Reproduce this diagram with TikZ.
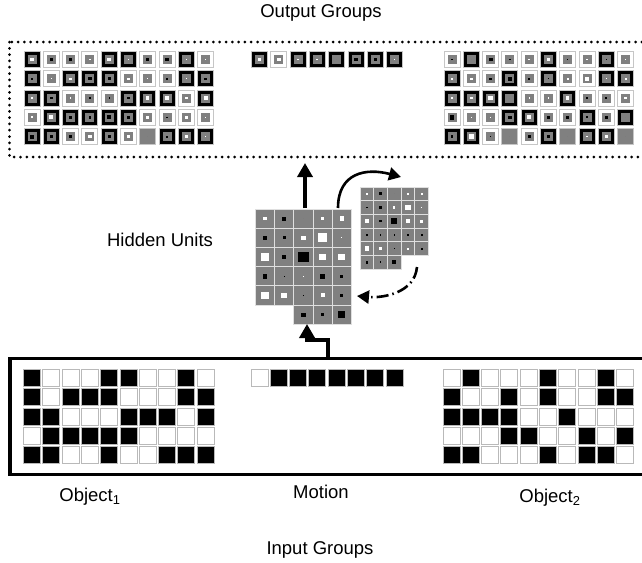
\documentclass[tikz,border=0pt]{standalone}
\usepackage{fontspec}
\setmainfont{Liberation Sans}
\usetikzlibrary{arrows.meta}

% one output unit: ring colour code and signed dot size (white > 0, black < 0)
\newcommand{\outunit}[4]{%
  \fill[gray!45] (#1,#2) rectangle ++(17,17);
  \fill[ring#3] (#1+1,#2+1) rectangle ++(15,15);
  \fill[gray] (#1+4,#2+4) rectangle ++(9,9);
  \ifdim#4pt>0pt \def\dotcol{white}\else\def\dotcol{black}\fi
  \pgfmathsetmacro\dotsz{1.3*abs(#4)}
  \fill[\dotcol] (#1+8.5-\dotsz/2,#2+8.5-\dotsz/2) rectangle ++(\dotsz,\dotsz);
}

% one hidden unit: size of the square and signed dot size
\newcommand{\hidunit}[4]{%
  \filldraw[unitcell] (#1,#2) rectangle ++(#3,#3);
  \ifdim#4pt>0pt \def\dotcol{white}\else\def\dotcol{black}\fi
  \pgfmathsetmacro\dotsz{1.15*abs(#4)}
  \fill[\dotcol] (#1+#3/2-\dotsz/2,#2+#3/2-\dotsz/2) rectangle ++(\dotsz,\dotsz);
}

\begin{document}
\begin{tikzpicture}[x=1pt, y=-1pt,
    grouplabel/.style={font=\fontsize{18.5}{22}\selectfont, inner sep=0pt},
    inbox/.style={line width=3.8pt},
    outbox/.style={line width=3pt, line cap=round, dash pattern=on 0pt off 6.3pt},
    bigarrow/.style={line width=3.5pt, -{Triangle[length=14pt,width=15pt]}},
    recurarrow/.style={line width=2.6pt, -{Triangle[length=12pt,width=13pt]}},
    backarrow/.style={line width=2.6pt, dash pattern=on 12pt off 4pt on 1.5pt off 4pt, -{Triangle[length=12pt,width=13pt]}},
    incell/.style={draw=gray!55, line width=1pt},
    unitcell/.style={fill=gray, draw=gray!25, line width=1pt},
  ]

    % Colors
    \colorlet{ring0}{white}
    \colorlet{ring1}{black}
    \colorlet{ring2}{gray}
    \colorlet{in0}{white}
    \colorlet{in1}{black}

    \useasboundingbox (0,0) rectangle (642,562);
    \clip (0,0) rectangle (642,562);

    %draw the group boxes
    \draw[outbox] (9.5,42) rectangle (680,157);
    \draw[inbox] (10,358.5) rectangle (680,474.5);

    %draw the output groups
    \foreach \row [count=\r from 0] in {
        {1/3,0/-2,0/-2.5,0/1,1/3,1/1.5,0/-2.5,0/-3,1/1,0/1},
        {1/-2,0/1,1/2,1/-2.5,1/-2.5,0/2,0/1,0/-1.5,1/1,1/-2},
        {1/1.5,1/-2,0/1,0/-1.5,0/-1,1/-2,1/2.5,1/3.5,0/2,1/3},
        {0/1.5,1/3,1/-2.5,1/-2,1/-3,1/-2.5,0/2.5,0/-1,0/2.5,0/1},
        {1/-3,1/-2,0/-2.5,0/2.5,1/-2,0/2,2/0,1/-1.5,1/2.5,1/1}}
      \foreach \rg/\dt [count=\c from 0] in \row
        \outunit{23.5+\c*19.3}{51+\r*19.3}{\rg}{\dt};

    \foreach \rg/\dt [count=\c from 0] in {1/3,0/3,1/1.5,1/1.5,1/0,1/-3,1/-2,1/1}
      \outunit{251+\c*19.3}{51}{\rg}{\dt};

    \foreach \row [count=\r from 0] in {
        {0/-1,1/0,0/-3,0/-1,0/1.5,1/3,0/-1,0/1,1/-1,0/1},
        {1/1.5,0/2,0/-2,1/-3,0/-1.5,1/-1,0/1.5,0/3,1/1,1/1.5},
        {1/2,1/2,1/3.5,1/0,0/1,0/1,1/2.5,0/-1.5,0/-1.5,0/2},
        {0/-3.5,0/1,0/1,1/-2.5,1/3,0/-2,0/-2.5,1/-1.5,0/-2,1/0},
        {1/-2,1/3.5,0/-1,2/0,0/-2.5,1/-2,2/0,1/1,1/2.5,2/0}}
      \foreach \rg/\dt [count=\c from 0] in \row
        \outunit{443.5+\c*19.3}{51+\r*19.3}{\rg}{\dt};

    %draw the hidden units
    \foreach \row [count=\r from 0] in {
        {3,-3.5,0,2.5,4},
        {-3,-2.5,3.5,7.5,1},
        {6.5,-3.5,-9,6,6},
        {-4,-1,1,-4.5,-2.5},
        {6.5,5,-1,3.5,-2.5}}
      \foreach \dt [count=\c from 0] in \row
        \hidunit{255.5+\c*19.2}{209+\r*19.2}{19.2}{\dt};
    \foreach \dt [count=\c from 2] in {-3.5,-2.5,-6}
      \hidunit{255.5+\c*19.2}{209+5*19.2}{19.2}{\dt};

    %draw the context copy
    \foreach \row [count=\r from 0] in {
        {2,-2.5,0,1.5,2},
        {-1.5,-2,2,4.5,1},
        {3.5,-2,-5.5,3.5,3},
        {-2,-1,-1,-2.5,-1.5},
        {4,3,-1,2,-1.5}}
      \foreach \dt [count=\c from 0] in \row
        \hidunit{360+\c*13.7}{187+\r*13.7}{13.7}{\dt};
    \foreach \dt [count=\c from 0] in {-2,-1.5,-3.5}
      \hidunit{360+\c*13.7}{187+5*13.7}{13.7}{\dt};

    %draw the input groups
    \foreach \row [count=\r from 0] in {
        {1,0,0,0,1,1,0,0,1,0},
        {1,0,1,1,1,0,0,0,1,1},
        {1,1,0,0,0,1,1,1,0,1},
        {0,1,1,1,1,1,0,0,0,0},
        {1,1,0,0,1,0,0,1,1,1}}
      \foreach \v [count=\c from 0] in \row
        \filldraw[incell, fill=in\v] (23.5+\c*19.3,369.5+\r*19.3) rectangle ++(17,17);

    \foreach \v [count=\c from 0] in {0,1,1,1,1,1,1,1}
      \filldraw[incell, fill=in\v] (251+\c*19.3,369.5) rectangle ++(17,17);

    \foreach \row [count=\r from 0] in {
        {0,1,0,0,0,1,0,0,1,0},
        {1,0,0,1,0,1,0,0,1,1},
        {1,1,1,1,0,0,1,0,0,0},
        {0,0,0,1,1,0,0,1,0,1},
        {1,1,0,0,0,1,0,1,1,0}}
      \foreach \v [count=\c from 0] in \row
        \filldraw[incell, fill=in\v] (443+\c*19.3,369.5+\r*19.3) rectangle ++(17,17);

    %connect the groups
    \coordinate (hidtop) at (305,208);
    \coordinate (outbot) at (305,163);
    \draw[bigarrow] (hidtop) -- (outbot);

    \coordinate (inboxtop) at (328,357);
    \coordinate (hidbot) at (307,324);
    \draw[bigarrow] (inboxtop) -- ++(0,-17) -| (hidbot);

    \coordinate (hidcorner) at (338,208);
    \coordinate (ctxtop) at (401,177);
    \draw[recurarrow] (hidcorner) to[out=90,in=165,looseness=1.3] (ctxtop);

    \coordinate (ctxbot) at (417,267);
    \coordinate (hidside) at (357,296);
    \draw[backarrow] (ctxbot) to[out=-95,in=-5] (hidside);

    %add the labels
    \node[grouplabel] (outlabel) at (321,13) {Output Groups};
    \node[grouplabel] (hidlabel) at (160,240) {Hidden Units};
    \node[grouplabel] (obj1label) at (90,497) {Object\textsubscript{1}};
    \node[grouplabel] (motionlabel) at (321,492) {Motion};
    \node[grouplabel] (obj2label) at (550,498) {Object\textsubscript{2}};
    \node[grouplabel] (inlabel) at (320,550) {Input Groups};

\end{tikzpicture}
\end{document}
